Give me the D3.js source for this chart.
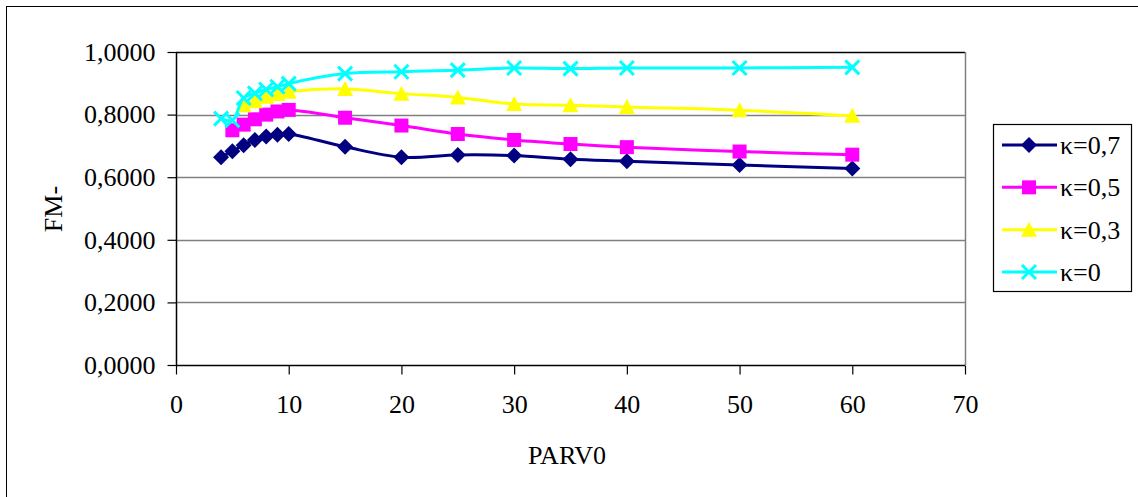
<!DOCTYPE html>
<html>
<head>
<meta charset="utf-8">
<script src="https://cdn.jsdelivr.net/npm/d3@7"></script>
<style>
  html, body { margin: 0; padding: 0; background: #fff; }
  svg { display: block; font-family: "Liberation Serif", "Times New Roman", serif; }
</style>
</head>
<body>
<svg id="chart" width="1138" height="497"></svg>
<script>
// PARV0 values along the horizontal axis
const parv0 = [4, 5, 6, 7, 8, 9, 10, 15, 20, 25, 30, 35, 40, 50, 60];

// FM- for each κ (null where the series has no point)
const kappa07 = [0.664, 0.683, 0.702, 0.719, 0.730, 0.736, 0.738, 0.697, 0.664, 0.671, 0.669, 0.657, 0.651, 0.639, 0.628];
const kappa05 = [null, 0.750, 0.768, 0.785, 0.800, 0.810, 0.815, 0.790, 0.765, 0.738, 0.719, 0.706, 0.696, 0.682, 0.672];
const kappa03 = [null, null, 0.830, 0.843, 0.857, 0.866, 0.873, 0.882, 0.867, 0.855, 0.834, 0.830, 0.824, 0.814, 0.796];
const kappa0  = [0.787, 0.782, 0.853, 0.868, 0.880, 0.889, 0.899, 0.931, 0.937, 0.942, 0.949, 0.947, 0.949, 0.949, 0.951];

const seriesNames = ["κ=0,7", "κ=0,5", "κ=0,3", "κ=0"];
const xTicks = [0, 10, 20, 30, 40, 50, 60, 70];
const yTicks = [0, 0.2, 0.4, 0.6, 0.8, 1.0];

const series = [
  { name: seriesNames[0], values: kappa07, color: "#000080", marker: "diamond" },
  { name: seriesNames[1], values: kappa05, color: "#FF00FF", marker: "square" },
  { name: seriesNames[2], values: kappa03, color: "#FFFF00", marker: "triangle" },
  { name: seriesNames[3], values: kappa0,  color: "#00FFFF", marker: "cross" }
];

const svg = d3.select("#chart");
const plot = { left: 176, right: 965, top: 52, bottom: 365 };

const x = d3.scaleLinear().domain([0, 70]).range([plot.left, plot.right]);
const y = d3.scaleLinear().domain([0, 1]).range([plot.bottom, plot.top]);

// outer chart frame
svg.append("rect")
  .attr("x", 6.5).attr("y", 6.5)
  .attr("width", 1150).attr("height", 520)
  .attr("fill", "#fff").attr("stroke", "#000").attr("stroke-width", 1);

// horizontal gridlines
svg.append("g")
  .selectAll("line")
  .data(yTicks.filter(t => t > 0 && t < 1))
  .join("line")
  .attr("x1", plot.left).attr("x2", plot.right)
  .attr("y1", d => Math.round(y(d)) + 0.5).attr("y2", d => Math.round(y(d)) + 0.5)
  .attr("stroke", "#808080").attr("stroke-width", 1.5);

// plot area border: top and right
svg.append("line")
  .attr("x1", plot.left).attr("x2", plot.right)
  .attr("y1", plot.top + 0.5).attr("y2", plot.top + 0.5)
  .attr("stroke", "#000").attr("stroke-width", 1.5);
svg.append("line")
  .attr("x1", plot.right + 0.5).attr("x2", plot.right + 0.5)
  .attr("y1", plot.top).attr("y2", plot.bottom)
  .attr("stroke", "#808080").attr("stroke-width", 1.5);

// axes
const fmtY = v => d3.format(".4f")(v).replace(".", ",");

const yAxis = svg.append("g")
  .attr("transform", `translate(${plot.left + 0.5},0)`)
  .call(d3.axisLeft(y).tickValues(yTicks).tickFormat(fmtY).tickSize(9).tickPadding(12));
const xAxis = svg.append("g")
  .attr("transform", `translate(0,${plot.bottom + 0.5})`)
  .call(d3.axisBottom(x).tickValues(xTicks).tickFormat(d3.format("d")).tickSize(9).tickPadding(20));

[yAxis, xAxis].forEach(a => {
  a.select(".domain").attr("stroke", "#000").attr("stroke-width", 1.5);
  a.selectAll(".tick line").attr("stroke", "#000").attr("stroke-width", 1.2);
  a.selectAll(".tick text")
    .attr("fill", "#000")
    .style("font-family", "'Liberation Serif', 'Times New Roman', serif")
    .style("font-size", "26px");
});
yAxis.select(".domain").attr("d", `M0,${plot.top}V${plot.bottom}`);
xAxis.select(".domain").attr("d", `M${plot.left},0H${plot.right}`);
yAxis.selectAll(".tick line").attr("x1", 0);
xAxis.selectAll(".tick line").attr("y1", 0);

// axis titles
svg.append("text")
  .attr("x", 567).attr("y", 464)
  .attr("text-anchor", "middle")
  .style("font-size", "26px")
  .text("PARV0");
svg.append("text")
  .attr("transform", "translate(62,209) rotate(-90)")
  .attr("text-anchor", "middle")
  .style("font-size", "26px")
  .text("FM-");

// marker drawing
function drawMarker(g, type, color) {
  if (type === "diamond") {
    g.append("path").attr("d", "M0,-8L8,0L0,8L-8,0Z").attr("fill", color);
  } else if (type === "square") {
    g.append("rect").attr("x", -7).attr("y", -7).attr("width", 14).attr("height", 14).attr("fill", color);
  } else if (type === "triangle") {
    g.append("path").attr("d", "M0,-8L8,7L-8,7Z").attr("fill", color);
  } else if (type === "cross") {
    g.append("path").attr("d", "M-7,-7L7,7M-7,7L7,-7")
      .attr("stroke", color).attr("stroke-width", 3).attr("fill", "none");
  }
}

const line = d3.line()
  .defined(d => d.v != null)
  .x(d => x(d.x))
  .y(d => y(d.v))
  .curve(d3.curveCatmullRom.alpha(0.5));

series.forEach(s => {
  const pts = parv0.map((px, i) => ({ x: px, v: s.values[i] })).filter(d => d.v != null);
  svg.append("path")
    .datum(pts)
    .attr("d", line)
    .attr("fill", "none")
    .attr("stroke", s.color)
    .attr("stroke-width", 3);
  pts.forEach(d => {
    const g = svg.append("g").attr("transform", `translate(${x(d.x)},${y(d.v)})`);
    drawMarker(g, s.marker, s.color);
  });
});

// legend
const legend = svg.append("g");
legend.append("rect")
  .attr("x", 993.5).attr("y", 124.5)
  .attr("width", 138).attr("height", 167)
  .attr("fill", "#fff").attr("stroke", "#000").attr("stroke-width", 1.2);

const legendY = d3.scalePoint().domain(seriesNames).range([145, 272]);
series.forEach(s => {
  const ly = legendY(s.name);
  legend.append("line")
    .attr("x1", 1002).attr("x2", 1057)
    .attr("y1", ly).attr("y2", ly)
    .attr("stroke", s.color).attr("stroke-width", 3);
  const g = legend.append("g").attr("transform", `translate(1029,${ly})`);
  drawMarker(g, s.marker, s.color);
  legend.append("text")
    .attr("x", 1060).attr("y", ly + 9)
    .style("font-size", "26px")
    .text(s.name);
});
</script>
</body>
</html>
